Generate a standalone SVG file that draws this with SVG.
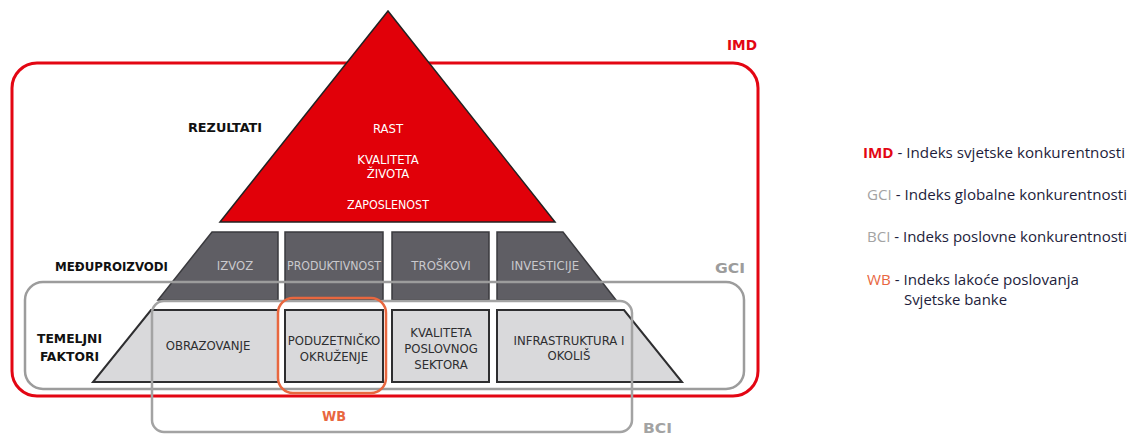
<svg xmlns="http://www.w3.org/2000/svg" width="1137" height="435" viewBox="0 0 1137 435">
<style>
.lbl{font-family:"DejaVu Sans Condensed","DejaVu Sans",sans-serif;font-weight:bold;font-size:12.5px;fill:#111;}
.tri{font-family:"Liberation Sans Narrow","DejaVu Sans Condensed",sans-serif;font-size:13px;fill:#fff;text-anchor:middle;}
.dk{fill:#5f5e64;stroke:#3a3a3e;stroke-width:1.5;}
.lt{fill:#d9d9db;stroke:#2e2e30;stroke-width:2;}
.dkt{font-family:"Liberation Sans Narrow","DejaVu Sans Condensed",sans-serif;font-size:13px;fill:#c9c9cd;text-anchor:middle;}
.ltt{font-family:"Liberation Sans Narrow","DejaVu Sans Condensed",sans-serif;font-size:13px;fill:#2e2e30;text-anchor:middle;}
.box{fill:none;}
.tag{font-family:"DejaVu Sans Condensed","DejaVu Sans",sans-serif;font-weight:bold;font-size:14px;}
.leg{font-family:"Open Sans","Noto Sans",sans-serif;font-size:15px;fill:#1d1d3b;}
</style>
<rect width="1137" height="435" fill="#fff"/>
<g id="imd-box"><rect class="box" x="12" y="63" width="746" height="333" rx="25" stroke="#e30613" stroke-width="3"/>
<text class="tag" x="727" y="50" fill="#e30613" textLength="30" lengthAdjust="spacingAndGlyphs">IMD</text></g>
<g id="rezultati"><polygon points="388,11 555,222 220,222" fill="#e10009" stroke="#222" stroke-width="1.5"/>
<text class="lbl" x="188" y="132" textLength="74" lengthAdjust="spacingAndGlyphs">REZULTATI</text>
<text class="tri" x="388" y="133">RAST</text>
<text class="tri" x="388" y="164">KVALITETA</text>
<text class="tri" x="388" y="178">ŽIVOTA</text>
<text class="tri" x="388" y="209" textLength="82" lengthAdjust="spacingAndGlyphs">ZAPOSLENOST</text></g>
<g id="meduproizvodi"><text class="lbl" x="55" y="271" textLength="113" lengthAdjust="spacingAndGlyphs">MEĐUPROIZVODI</text></g>
<g id="izvoz"><polygon class="dk" points="212,232 278,232 278,300 158,300"/><text class="dkt" x="235" y="270">IZVOZ</text></g>
<g id="produktivnost"><rect class="dk" x="285" y="232" width="98" height="68"/><text class="dkt" x="334" y="270" textLength="94" lengthAdjust="spacingAndGlyphs">PRODUKTIVNOST</text></g>
<g id="troskovi"><rect class="dk" x="392" y="232" width="97" height="68"/><text class="dkt" x="441" y="270">TROŠKOVI</text></g>
<g id="investicije"><polygon class="dk" points="497,232 563,232 616,300 497,300"/><text class="dkt" x="545" y="270">INVESTICIJE</text></g>
<g id="temeljni"><text class="lbl" x="37" y="343" textLength="65" lengthAdjust="spacingAndGlyphs">TEMELJNI</text><text class="lbl" x="40" y="361" textLength="59" lengthAdjust="spacingAndGlyphs">FAKTORI</text></g>
<g id="obrazovanje"><polygon class="lt" points="151,310 278,310 278,382 93,382"/><text class="ltt" x="208" y="350">OBRAZOVANJE</text></g>
<g id="poduzetnicko"><rect class="lt" x="285" y="310" width="98" height="72"/><text class="ltt" x="334" y="345">PODUZETNIČKO</text><text class="ltt" x="334" y="361">OKRUŽENJE</text></g>
<g id="kvaliteta"><rect class="lt" x="392" y="310" width="97" height="72"/><text class="ltt" x="441" y="337">KVALITETA</text><text class="ltt" x="441" y="353">POSLOVNOG</text><text class="ltt" x="441" y="369">SEKTORA</text></g>
<g id="infrastruktura"><polygon class="lt" points="497,310 624,310 682,382 497,382"/><text class="ltt" x="569" y="345">INFRASTRUKTURA I</text><text class="ltt" x="569" y="360">OKOLIŠ</text></g>
<g id="gci-box"><rect class="box" x="25" y="282" width="719" height="107" rx="18" stroke="#9c9c9c" stroke-width="2.5"/>
<text class="tag" x="715" y="273" fill="#9c9c9c" textLength="30" lengthAdjust="spacingAndGlyphs">GCI</text></g>
<g id="bci-box"><rect class="box" x="152" y="301" width="480" height="131" rx="12" stroke="#a3a3a3" stroke-width="2.5"/>
<text class="tag" x="643" y="433" fill="#a3a3a3" font-size="13" textLength="29" lengthAdjust="spacingAndGlyphs">BCI</text></g>
<g id="wb-box"><rect class="box" x="278" y="298" width="108" height="95" rx="15" stroke="#e8673f" stroke-width="2.5"/>
<text class="tag" x="322" y="421" fill="#e8673f" textLength="24" lengthAdjust="spacingAndGlyphs">WB</text></g>
<g id="legend">
<text class="leg" x="863" y="158" textLength="262" lengthAdjust="spacingAndGlyphs"><tspan font-weight="bold" fill="#e30613">IMD</tspan> - Indeks svjetske konkurentnosti</text>
<text class="leg" x="867" y="200" textLength="260" lengthAdjust="spacingAndGlyphs"><tspan fill="#a3a3a3">GCI</tspan> - Indeks globalne konkurentnosti</text>
<text class="leg" x="867" y="242" textLength="260" lengthAdjust="spacingAndGlyphs"><tspan fill="#a3a3a3">BCI</tspan> - Indeks poslovne konkurentnosti</text>
<text class="leg" x="867" y="285" textLength="212" lengthAdjust="spacingAndGlyphs"><tspan fill="#e8673f">WB</tspan> - Indeks lakoće poslovanja</text>
<text class="leg" x="904" y="305" textLength="103" lengthAdjust="spacingAndGlyphs">Svjetske banke</text>
</g>
</svg>
